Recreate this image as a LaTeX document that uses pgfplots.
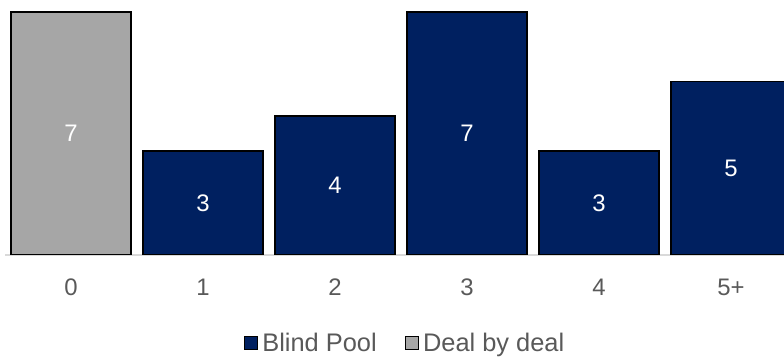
\documentclass[border=0pt]{standalone}
\usepackage{pgfplots}
\pgfplotsset{compat=1.18}
\usepackage{fontspec}
\setmainfont{Liberation Sans}
\definecolor{navy}{HTML}{002060}
\definecolor{grayfill}{HTML}{A6A6A6}
\definecolor{txt}{HTML}{595959}
\begin{document}
\begin{tikzpicture}
\useasboundingbox (0,0) rectangle (784bp,358bp);
\begin{axis}[
  at={(5bp,103bp)}, anchor=south west,
  scale only axis, width=779bp, height=255bp,
  xmin=-0.5, xmax=5.4015, ymin=0, ymax=7.346,
  /pgf/number format/assume math mode=true,
  ybar, bar width=0.909, bar shift=0pt,
  axis y line=none,
  axis x line=bottom,
  x axis line style={-, draw=black!15, line width=1.5bp},
  xtick={0,1,2,3,4,5}, xticklabels={0,1,2,3,4,5+},
  major tick length=0,
  xticklabel style={anchor=center, yshift=-32bp, text=txt, font=\fontsize{24}{28}\selectfont},
  ytick=\empty,
  visualization depends on=y \as \rawy,
  nodes near coords,
  nodes near coords style={text=white, anchor=center, font=\fontsize{24}{28}\selectfont, shift={(axis direction cs:0,-\rawy/2)}},
  legend style={at={(0.515,-0.345)}, anchor=center, draw=none, fill=none,
    legend columns=2, font=\fontsize{25.5}{29}\selectfont, text=txt,
    nodes={inner xsep=4bp},
    /tikz/every even column/.append style={column sep=24bp}},
  legend image code/.code={\draw[#1, line width=1.3bp] (-4bp,-6.5bp) rectangle (9bp,6.5bp);},
]
\addplot[fill=navy, draw=black, line width=1.3bp] coordinates {(1,3) (2,4) (3,7) (4,3) (5,5)};
\addlegendentry{Blind Pool}
\addplot[fill=grayfill, draw=black, line width=1.3bp] coordinates {(0,7)};
\addlegendentry{Deal by deal}
\end{axis}
\end{tikzpicture}
\end{document}
